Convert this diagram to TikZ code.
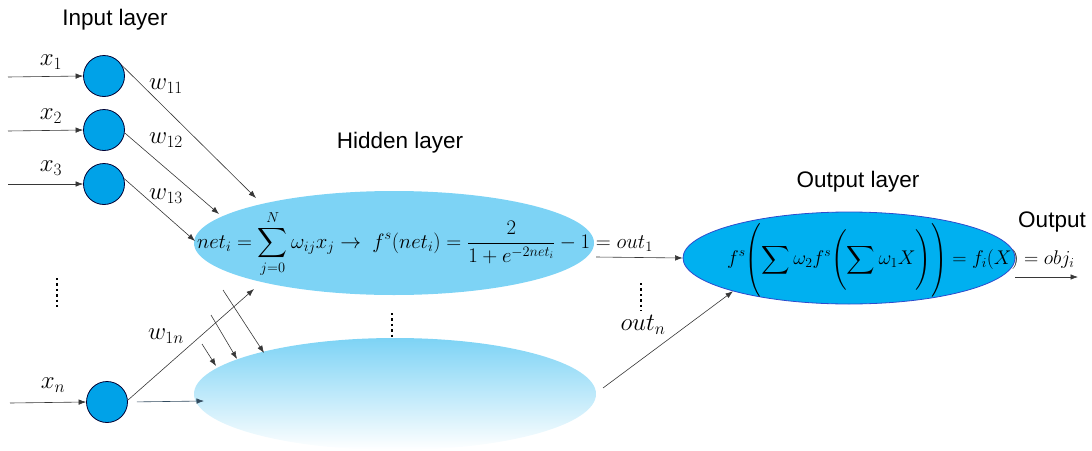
\documentclass[tikz,border=0pt]{standalone}
\usepackage{fontspec}
\setmainfont{Liberation Sans}
\usepackage{amsmath}
\usepackage{graphicx}
\usetikzlibrary{arrows.meta,calc,shapes.geometric}
\definecolor{inblue}{RGB}{0,162,232}
\definecolor{hidblue}{RGB}{125,211,245}
\definecolor{outblue}{RGB}{0,176,240}
\definecolor{outedge}{RGB}{45,75,205}
\definecolor{linegrey}{RGB}{55,55,55}
\definecolor{slate}{RGB}{50,75,95}
\newcommand{\tallL}[1]{\mathopen{\vcenter{\hbox{\scalebox{1}[#1]{$\Biggl($}}}}}
\newcommand{\tallR}[1]{\mathclose{\vcenter{\hbox{\scalebox{1}[#1]{$\Biggr)$}}}}}
\begin{document}
\begin{tikzpicture}[x=1pt,y=-1pt,
  innode/.style={circle,minimum size=41pt,inner sep=0pt,fill=inblue,draw=black!80!blue,line width=0.8pt},
  arr/.style={-{Latex[length=7.5pt,width=5.5pt]},draw=linegrey,line width=0.6pt},
  lbl/.style={font=\fontsize{22.5}{26}\selectfont,inner sep=0pt},
  mth/.style={font=\fontsize{23.5}{27}\selectfont,inner sep=0pt},
  eqn/.style={font=\fontsize{20.5}{24}\selectfont,inner sep=0pt},
  vdots/.style={line width=2.6pt,dash pattern=on 2.4pt off 3pt}
]
\useasboundingbox (0,0) rectangle (1092,450);
% titles
\node[lbl] (tin) at (115,20) {Input layer};
\node[lbl] (thid) at (400,143) {Hidden layer};
\node[lbl] (tout) at (858,182) {Output layer};
\node[lbl] (toutput) at (1052,222) {Output};
% hidden ellipses
\node[ellipse,minimum width=400pt,minimum height=104pt,fill=hidblue,draw=none] (h1) at (394,243) {};
\node[ellipse,minimum width=402pt,minimum height=112pt,draw=none,top color=hidblue,bottom color=white] (h2) at (395,394) {};
% output ellipse
\node[ellipse,minimum width=332pt,minimum height=92pt,fill=outblue,draw=outedge,line width=0.8pt] (o) at (849,258) {};
% input neurons
\node[innode] (i1) at (104,76) {};
\node[innode] (i2) at (104,130) {};
\node[innode] (i3) at (104,184) {};
\node[innode] (in) at (107,402) {};
% input lines
\coordinate (s1) at (8,77);
\coordinate (s2) at (8,131);
\coordinate (s3) at (8,184);
\coordinate (sn) at (10,403);
\draw[arr] (s1) -- (i1.west);
\draw[arr] (s2) -- (i2.west);
\draw[arr] (s3) -- (i3.west);
\draw[arr] (sn) -- (in.west);
% labels
\node[mth] (lx1) at (51,62) {$x_1$};
\node[mth] (lx2) at (51,116) {$x_2$};
\node[mth] (lx3) at (51,168) {$x_3$};
\node[mth] (lxn) at (53,385) {$x_n$};
\node[mth] (lw11) at (166,86) {$w_{11}$};
\node[mth] (lw12) at (166,140) {$w_{12}$};
\node[mth] (lw13) at (166,196) {$w_{13}$};
\node[mth] (lw1n) at (166,336) {$w_{1n}$};
% weights arrows
\coordinate (t11) at (256,198);
\coordinate (t12) at (219,214);
\coordinate (t13) at (195,241);
\coordinate (t1n) at (254,289);
\coordinate (tn2) at (204,401);
\draw[arr] (i1.30) -- (t11);
\draw[arr] (i2.-8) -- (t12);
\draw[arr] (i3.15) -- (t13);
\draw[arr] (in.5) -- (t1n);
\draw[arr,draw=slate,shorten <=9pt] (in.east) -- (tn2);
\coordinate (pa1) at (202,344);
\coordinate (pa2) at (216,366);
\coordinate (pb1) at (211,315);
\coordinate (pb2) at (237,359);
\coordinate (pc1) at (223,290);
\coordinate (pc2) at (264,353);
\draw[arr] (pa1) -- (pa2);
\draw[arr] (pb1) -- (pb2);
\draw[arr] (pc1) -- (pc2);
% hidden equation
\node[eqn,anchor=west] (eqh) at (197,244) {$\displaystyle net_i = \sum_{j=0}^{N} \omega_{ij}x_j \rightarrow\ f^s(net_i) = \frac{2}{1+e^{-2net_i}} - 1 = out_1$};
% output equation
\node[eqn,anchor=west] (eqo) at (727,260) {\scalebox{0.955}{$\displaystyle f^s\tallL{1.24}\sum \omega_2 f^s\tallL{1.02}\sum \omega_1 X\tallR{1.02}\tallR{1.24} = f_i(X) = obj_i$}};
% connections to output
\coordinate (o1s) at (596,257);
\coordinate (ons) at (603,388);
\coordinate (oes) at (1015,277);
\coordinate (oee) at (1078,277);
\draw[arr] (o1s) -- (o.west);
\draw[arr] (ons) -- (o.196);
\draw[arr] (oes) -- (oee);
\node[mth] (loutn) at (643,325) {$out_n$};
% dots
\draw[vdots] (57,278) -- (57,309);
\draw[vdots] (392,313) -- (392,337);
\draw[vdots] (641,283) -- (641,311);
\end{tikzpicture}
\end{document}
